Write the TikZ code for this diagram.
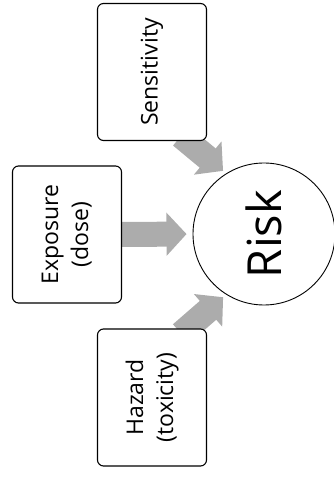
\documentclass[tikz,border=0pt]{standalone}
\usepackage{fontspec}
\setmainfont{Open Sans}
\usepackage{graphicx}
\usetikzlibrary{arrows.meta,backgrounds}
\definecolor{arrowgray}{RGB}{172,172,172}

\begin{document}
\begin{tikzpicture}[>=latex,line join=bevel,
  factor/.style={draw,rounded corners=6bp,line width=1.1bp,fill=white,
    minimum width=109bp,minimum height=137bp,inner sep=0pt,
    font=\fontsize{23bp}{30bp}\selectfont},
  fatarrow/.style={draw=arrowgray,line width=25bp,
    -{Triangle[length=20bp,width=42bp]}},
]
\useasboundingbox (0bp,0bp) rectangle (334bp,478bp);
%%
\node (sens) at (152bp,406bp) [factor] {\rotatebox{90}{Sensitivity}};
  \node (expo) at (67bp,243.5bp) [factor] {\rotatebox{90}{\begin{tabular}{@{}c@{}}Exposure\\(dose)\end{tabular}}};
  \node (haz) at (152bp,80.5bp) [factor] {\rotatebox{90}{\begin{tabular}{@{}c@{}}Hazard\\(toxicity)\end{tabular}}};
  \node (risk) at (264bp,244bp) [draw,circle,minimum size=142bp,line width=0.9bp,inner sep=0pt,font=\fontsize{47bp}{50bp}\selectfont] {\rotatebox{90}{Risk}};
\begin{scope}[on background layer]
  \draw [fatarrow,shorten >=6bp] (expo.east) -- (risk.west);
  \draw [fatarrow,shorten <=-8bp,shorten >=4bp] (sens.-63) -- (risk.122);
  \draw [fatarrow,shorten <=-8bp,shorten >=4bp] (haz.63) -- (risk.-122);
\end{scope}
%
\end{tikzpicture}
\end{document}
